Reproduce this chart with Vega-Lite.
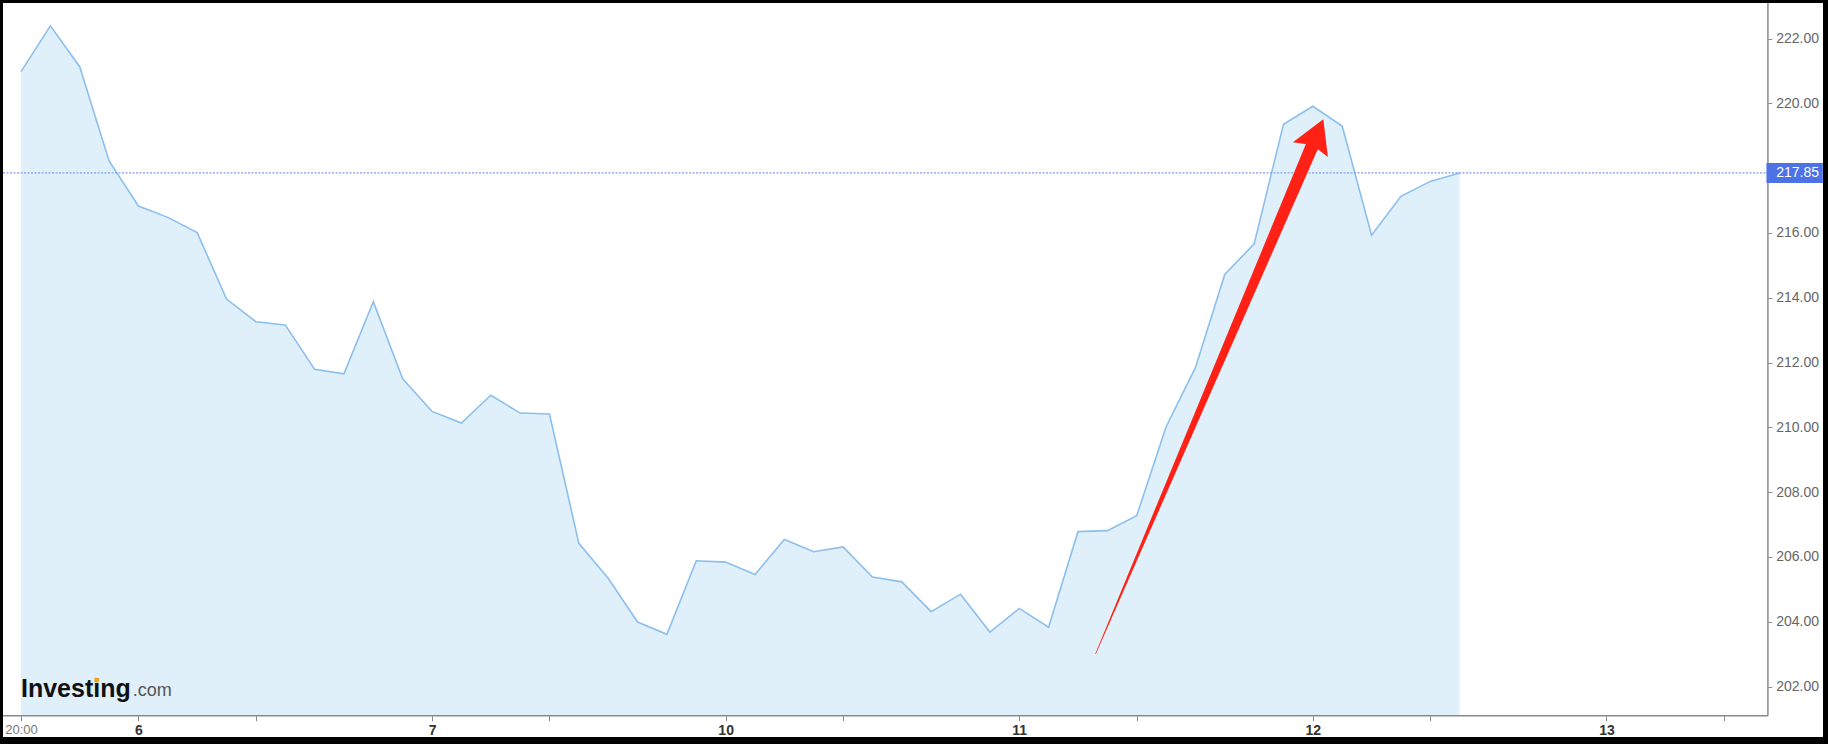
{
  "$schema": "https://vega.github.io/schema/vega-lite/v6.json",
  "width": 1820,
  "height": 734,
  "autosize": {"type": "none"},
  "padding": {"left": 3, "top": 3, "right": 5, "bottom": 7},
  "background": "#000000",
  "config": {
    "view": {"fill": "#ffffff", "stroke": null},
    "axis": {"grid": false, "labelFont": "Liberation Sans", "domain": false, "tickColor": "#8a8a8a", "tickWidth": 1, "title": null}
  },
  "datasets": {
    "price": [
      {"i": 0, "v": 220.98}, {"i": 1, "v": 222.39}, {"i": 2, "v": 221.13}, {"i": 3, "v": 218.22},
      {"i": 4, "v": 216.83}, {"i": 5, "v": 216.48}, {"i": 6, "v": 216.01}, {"i": 7, "v": 213.96},
      {"i": 8, "v": 213.26}, {"i": 9, "v": 213.16}, {"i": 10, "v": 211.79}, {"i": 11, "v": 211.65},
      {"i": 12, "v": 213.88}, {"i": 13, "v": 211.5}, {"i": 14, "v": 210.49}, {"i": 15, "v": 210.13},
      {"i": 16, "v": 210.99}, {"i": 17, "v": 210.44}, {"i": 18, "v": 210.41}, {"i": 19, "v": 206.42},
      {"i": 20, "v": 205.34}, {"i": 21, "v": 203.99}, {"i": 22, "v": 203.61}, {"i": 23, "v": 205.88},
      {"i": 24, "v": 205.84}, {"i": 25, "v": 205.46}, {"i": 26, "v": 206.54}, {"i": 27, "v": 206.16},
      {"i": 28, "v": 206.31}, {"i": 29, "v": 205.38}, {"i": 30, "v": 205.23}, {"i": 31, "v": 204.31},
      {"i": 32, "v": 204.85}, {"i": 33, "v": 203.68}, {"i": 34, "v": 204.41}, {"i": 35, "v": 203.83},
      {"i": 36, "v": 206.78}, {"i": 37, "v": 206.81}, {"i": 38, "v": 207.27}, {"i": 39, "v": 210.01},
      {"i": 40, "v": 211.84}, {"i": 41, "v": 214.72}, {"i": 42, "v": 215.66}, {"i": 43, "v": 219.35},
      {"i": 44, "v": 219.91}, {"i": 45, "v": 219.3}, {"i": 46, "v": 215.93}, {"i": 47, "v": 217.13},
      {"i": 48, "v": 217.59}, {"i": 49, "v": 217.85}
    ],
    "last": [{"last": 217.85}],
    "arrow": [
      {"ai": 36.6, "av": 203.01, "part": "tail"},
      {"ai": 43.96, "av": 218.65, "part": "head"}
    ],
    "arrowhead": [{"ai": 44.09, "av": 218.94}],
    "frame": [{"edge": "plot"}],
    "logo1": [{"t": "Investing"}],
    "logo2": [{"t": ".com"}],
    "logodot": [{"dot": "i"}]
  },
  "layer": [
    {
      "data": {"name": "price"},
      "mark": {"type": "area", "color": "#e0f0fa", "opacity": 1},
      "encoding": {
        "x": {
          "field": "i", "type": "quantitative",
          "scale": {"domain": [-0.6131, 61.376], "nice": false, "zero": false},
          "axis": {
            "orient": "bottom", "offset": -21.3,
            "values": [0, 4, 8, 14, 18, 24, 28, 34, 38, 44, 48, 54, 58],
            "labelExpr": "datum.value == 0 ? '20:00' : datum.value == 4 ? '6' : datum.value == 14 ? '7' : datum.value == 24 ? '10' : datum.value == 34 ? '11' : datum.value == 44 ? '12' : datum.value == 54 ? '13' : ''",
            "tickSize": 5, "labelPadding": 3,
            "labelOverlap": false, "labelFlush": false,
            "labelFontSize": {"condition": {"test": "datum.value == 0", "value": 13}, "value": 14},
            "labelColor": {"condition": {"test": "datum.value == 0", "value": "#777777"}, "value": "#333333"},
            "labelFontWeight": {"condition": {"test": "datum.value == 0", "value": "normal"}, "value": "bold"}
          }
        },
        "y": {
          "field": "v", "type": "quantitative",
          "scale": {"domain": [200.442, 223.096], "nice": false, "zero": false},
          "axis": {
            "orient": "right", "offset": -55.3,
            "values": [202, 204, 206, 208, 210, 212, 214, 216, 220, 222],
            "format": ".2f", "tickSize": 4, "labelPadding": 4, "labelFontSize": 14,
            "labelColor": "#666666", "labelOverlap": false, "labelFlush": false
          }
        },
        "y2": {"datum": 201.099}
      }
    },
    {
      "data": {"name": "price"},
      "mark": {"type": "line", "color": "#8cbfee", "strokeWidth": 1.6},
      "encoding": {
        "x": {"field": "i", "type": "quantitative"},
        "y": {"field": "v", "type": "quantitative"}
      }
    },
    {
      "data": {"name": "last"},
      "mark": {"type": "rule", "color": "#7f9cf0", "strokeWidth": 1.3, "strokeDash": [2, 1.5]},
      "encoding": {
        "y": {"field": "last", "type": "quantitative"},
        "x": {"datum": -0.6131},
        "x2": {"datum": 59.5}
      }
    },
    {
      "data": {"name": "frame"},
      "mark": {"type": "rule", "color": "#8a8a8a", "strokeWidth": 1.5},
      "encoding": {
        "x": {"datum": 59.5},
        "y": {"datum": 223.096},
        "y2": {"datum": 201.099}
      }
    },
    {
      "data": {"name": "frame"},
      "mark": {"type": "rule", "color": "#8a8a8a", "strokeWidth": 1.5},
      "encoding": {
        "y": {"datum": 201.099},
        "x": {"datum": -0.6131},
        "x2": {"datum": 59.5}
      }
    },
    {
      "data": {"name": "last"},
      "mark": {"type": "rect", "color": "#4c72e6"},
      "encoding": {
        "x": {"datum": 59.45},
        "x2": {"datum": 61.37},
        "y": {"datum": 218.159},
        "y2": {"datum": 217.541}
      }
    },
    {
      "data": {"name": "last"},
      "mark": {"type": "text", "color": "#ffffff", "align": "left", "baseline": "middle", "font": "Liberation Sans", "fontSize": 14},
      "encoding": {
        "x": {"datum": 59.78},
        "y": {"field": "last", "type": "quantitative"},
        "text": {"field": "last", "type": "quantitative", "format": ".2f"}
      }
    },
    {
      "data": {"name": "arrow"},
      "mark": {"type": "trail", "color": "#ff2116"},
      "encoding": {
        "x": {"field": "ai", "type": "quantitative"},
        "y": {"field": "av", "type": "quantitative"},
        "size": {"field": "part", "type": "ordinal", "scale": {"domain": ["tail", "head"], "range": [0.6, 13]}, "legend": null}
      }
    },
    {
      "data": {"name": "arrowhead"},
      "mark": {"type": "point", "shape": "M0,-1L0.95,0.65L0,0.4L-0.95,0.65Z", "size": 1600, "angle": 23, "filled": true, "color": "#ff2116", "opacity": 1},
      "encoding": {
        "x": {"field": "ai", "type": "quantitative"},
        "y": {"field": "av", "type": "quantitative"}
      }
    },
    {
      "data": {"name": "logo1"},
      "mark": {"type": "text", "align": "left", "baseline": "alphabetic", "font": "Liberation Sans", "fontWeight": "bold", "fontSize": 25, "color": "#111111"},
      "encoding": {
        "x": {"datum": 0},
        "y": {"datum": 201.685},
        "text": {"field": "t"}
      }
    },
    {
      "data": {"name": "logodot"},
      "mark": {"type": "square", "size": 20, "color": "#f5a31a", "opacity": 1, "angle": 10},
      "encoding": {
        "x": {"datum": 2.578},
        "y": {"datum": 202.2}
      }
    },
    {
      "data": {"name": "logo2"},
      "mark": {"type": "text", "align": "left", "baseline": "alphabetic", "font": "Liberation Sans", "fontSize": 18, "color": "#555555"},
      "encoding": {
        "x": {"datum": 3.81},
        "y": {"datum": 201.72},
        "text": {"field": "t"}
      }
    }
  ]
}
